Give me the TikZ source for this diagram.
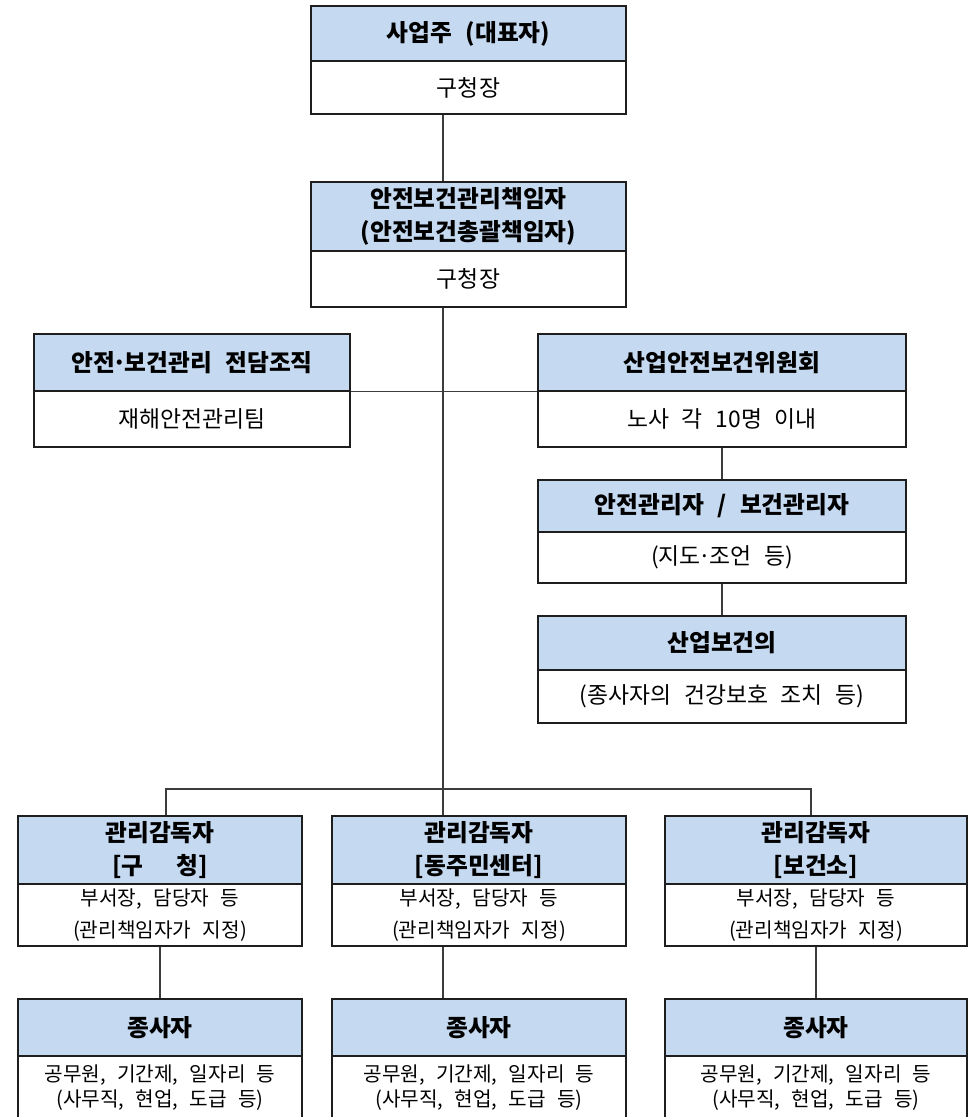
\documentclass[tikz,border=0pt]{standalone}
\usepackage{fontspec}
\newfontfamily\kr{Noto Sans CJK KR}
\newfontfamily\krw[WordSpace=2.5]{Noto Sans CJK KR}
\definecolor{hblue}{RGB}{197,217,240}
\definecolor{edge}{RGB}{30,30,30}
\definecolor{wire}{RGB}{60,60,60}
\newcommand{\mdot}{\kern-0.1em·\kern-0.1em}
\tikzset{
  hdr/.style={draw=edge, line width=0.8pt, fill=hblue, align=center, inner sep=0pt,
    font=\kr\bfseries\fontsize{13.5}{18.5}\selectfont},
  bdy/.style={draw=edge, line width=0.8pt, fill=white, align=center, inner sep=0pt,
    font=\krw\fontsize{13}{18}\selectfont},
  sbdy/.style={bdy, font=\krw\fontsize{11.5}{18.5}\selectfont},
  tbdy/.style={bdy, font=\krw\fontsize{11.5}{14}\selectfont},
  link/.style={draw=wire, line width=0.6pt},
}
\begin{document}
\begin{tikzpicture}[x=0.02cm,y=-0.02cm]
\useasboundingbox (0,0) rectangle (979,1117);
\clip (0,0) rectangle (979,1117);
\fill[white] (0,0) rectangle (979,1117);

% top
\node[hdr, minimum width=6.3cm, minimum height=1.1cm] (h1) at (468.5,33.5) {사업주 (대표자)};
\node[bdy, minimum width=6.3cm, minimum height=1.06cm] (b1) at (468.5,87.5) {구청장};
% second
\node[hdr, minimum width=6.3cm, minimum height=1.38cm] (h2) at (468.5,216.5) {안전보건관리책임자\\(안전보건총괄책임자)};
\node[bdy, minimum width=6.3cm, minimum height=1.12cm] (b2) at (468.5,279) {구청장};
% left
\node[hdr, minimum width=6.32cm, minimum height=1.14cm] (hL) at (192,362.5) {안전\mdot 보건관리 전담조직};
\node[bdy, minimum width=6.32cm, minimum height=1.12cm] (bL) at (192,419) {재해안전관리팀};
% right column
\node[hdr, minimum width=7.36cm, minimum height=1.14cm] (hR1) at (722,362.5) {산업안전보건위원회};
\node[bdy, minimum width=7.36cm, minimum height=1.12cm] (bR1) at (722,419) {노사 각 10명 이내};
\node[hdr, minimum width=7.36cm, minimum height=1.04cm] (hR2) at (722,506) {안전관리자 / 보건관리자};
\node[bdy, minimum width=7.36cm, minimum height=1.02cm] (bR2) at (722,557.5) {(지도\mdot 조언 등)};
\node[hdr, minimum width=7.36cm, minimum height=1.08cm] (hR3) at (722,643) {산업보건의};
\node[bdy, minimum width=7.36cm, minimum height=1.06cm] (bR3) at (722,696.5) {(종사자의 건강보호 조치 등)};
% bottom row 1
\node[hdr, minimum width=5.68cm, minimum height=1.36cm] (hA) at (160,850) {관리감독자\\{[}구\hspace{1.4em}청{]}};
\node[sbdy, minimum width=5.68cm, minimum height=1.24cm] (bA) at (160,915) {부서장, 담당자 등\\(관리책임자가 지정)};
\node[hdr, minimum width=5.88cm, minimum height=1.36cm] (hB) at (479,850) {관리감독자\\{[}동주민센터{]}};
\node[sbdy, minimum width=5.88cm, minimum height=1.24cm] (bB) at (479,915) {부서장, 담당자 등\\(관리책임자가 지정)};
\node[hdr, minimum width=6.04cm, minimum height=1.36cm] (hC) at (816,850) {관리감독자\\{[}보건소{]}};
\node[sbdy, minimum width=6.04cm, minimum height=1.24cm] (bC) at (816,915) {부서장, 담당자 등\\(관리책임자가 지정)};
% bottom row 2
\node[hdr, minimum width=5.68cm, minimum height=1.14cm] (hA2) at (160,1027.5) {종사자};
\node[tbdy, minimum width=5.68cm, minimum height=1.26cm] (bA2) at (160,1087.5) {공무원, 기간제, 일자리 등\\(사무직, 현업, 도급 등)};
\node[hdr, minimum width=5.88cm, minimum height=1.14cm] (hB2) at (479,1027.5) {종사자};
\node[tbdy, minimum width=5.88cm, minimum height=1.26cm] (bB2) at (479,1087.5) {공무원, 기간제, 일자리 등\\(사무직, 현업, 도급 등)};
\node[hdr, minimum width=6.04cm, minimum height=1.14cm] (hC2) at (816,1027.5) {종사자};
\node[tbdy, minimum width=6.04cm, minimum height=1.26cm] (bC2) at (816,1087.5) {공무원, 기간제, 일자리 등\\(사무직, 현업, 도급 등)};

% connectors
\coordinate (spine) at (443,0);
\coordinate (jl) at (166,789);
\coordinate (jr) at (811,789);
\draw[link] (b1.south -| spine) -- (h2.north -| spine);
\draw[link] (b2.south -| spine) -- (hB.north -| spine);
\draw[link] (hL.south east) -- (hR1.south west);
\draw[link] (bR1.south) -- (hR2.north);
\draw[link] (bR2.south) -- (hR3.north);
\draw[link] (hA.north -| jl) |- (jr) -- (hC.north -| jr);
\draw[link] (bA.south) -- (hA2.north);
\draw[link] (bB.south -| spine) -- (hB2.north -| spine);
\draw[link] (bC.south) -- (hC2.north);
\end{tikzpicture}
\end{document}
